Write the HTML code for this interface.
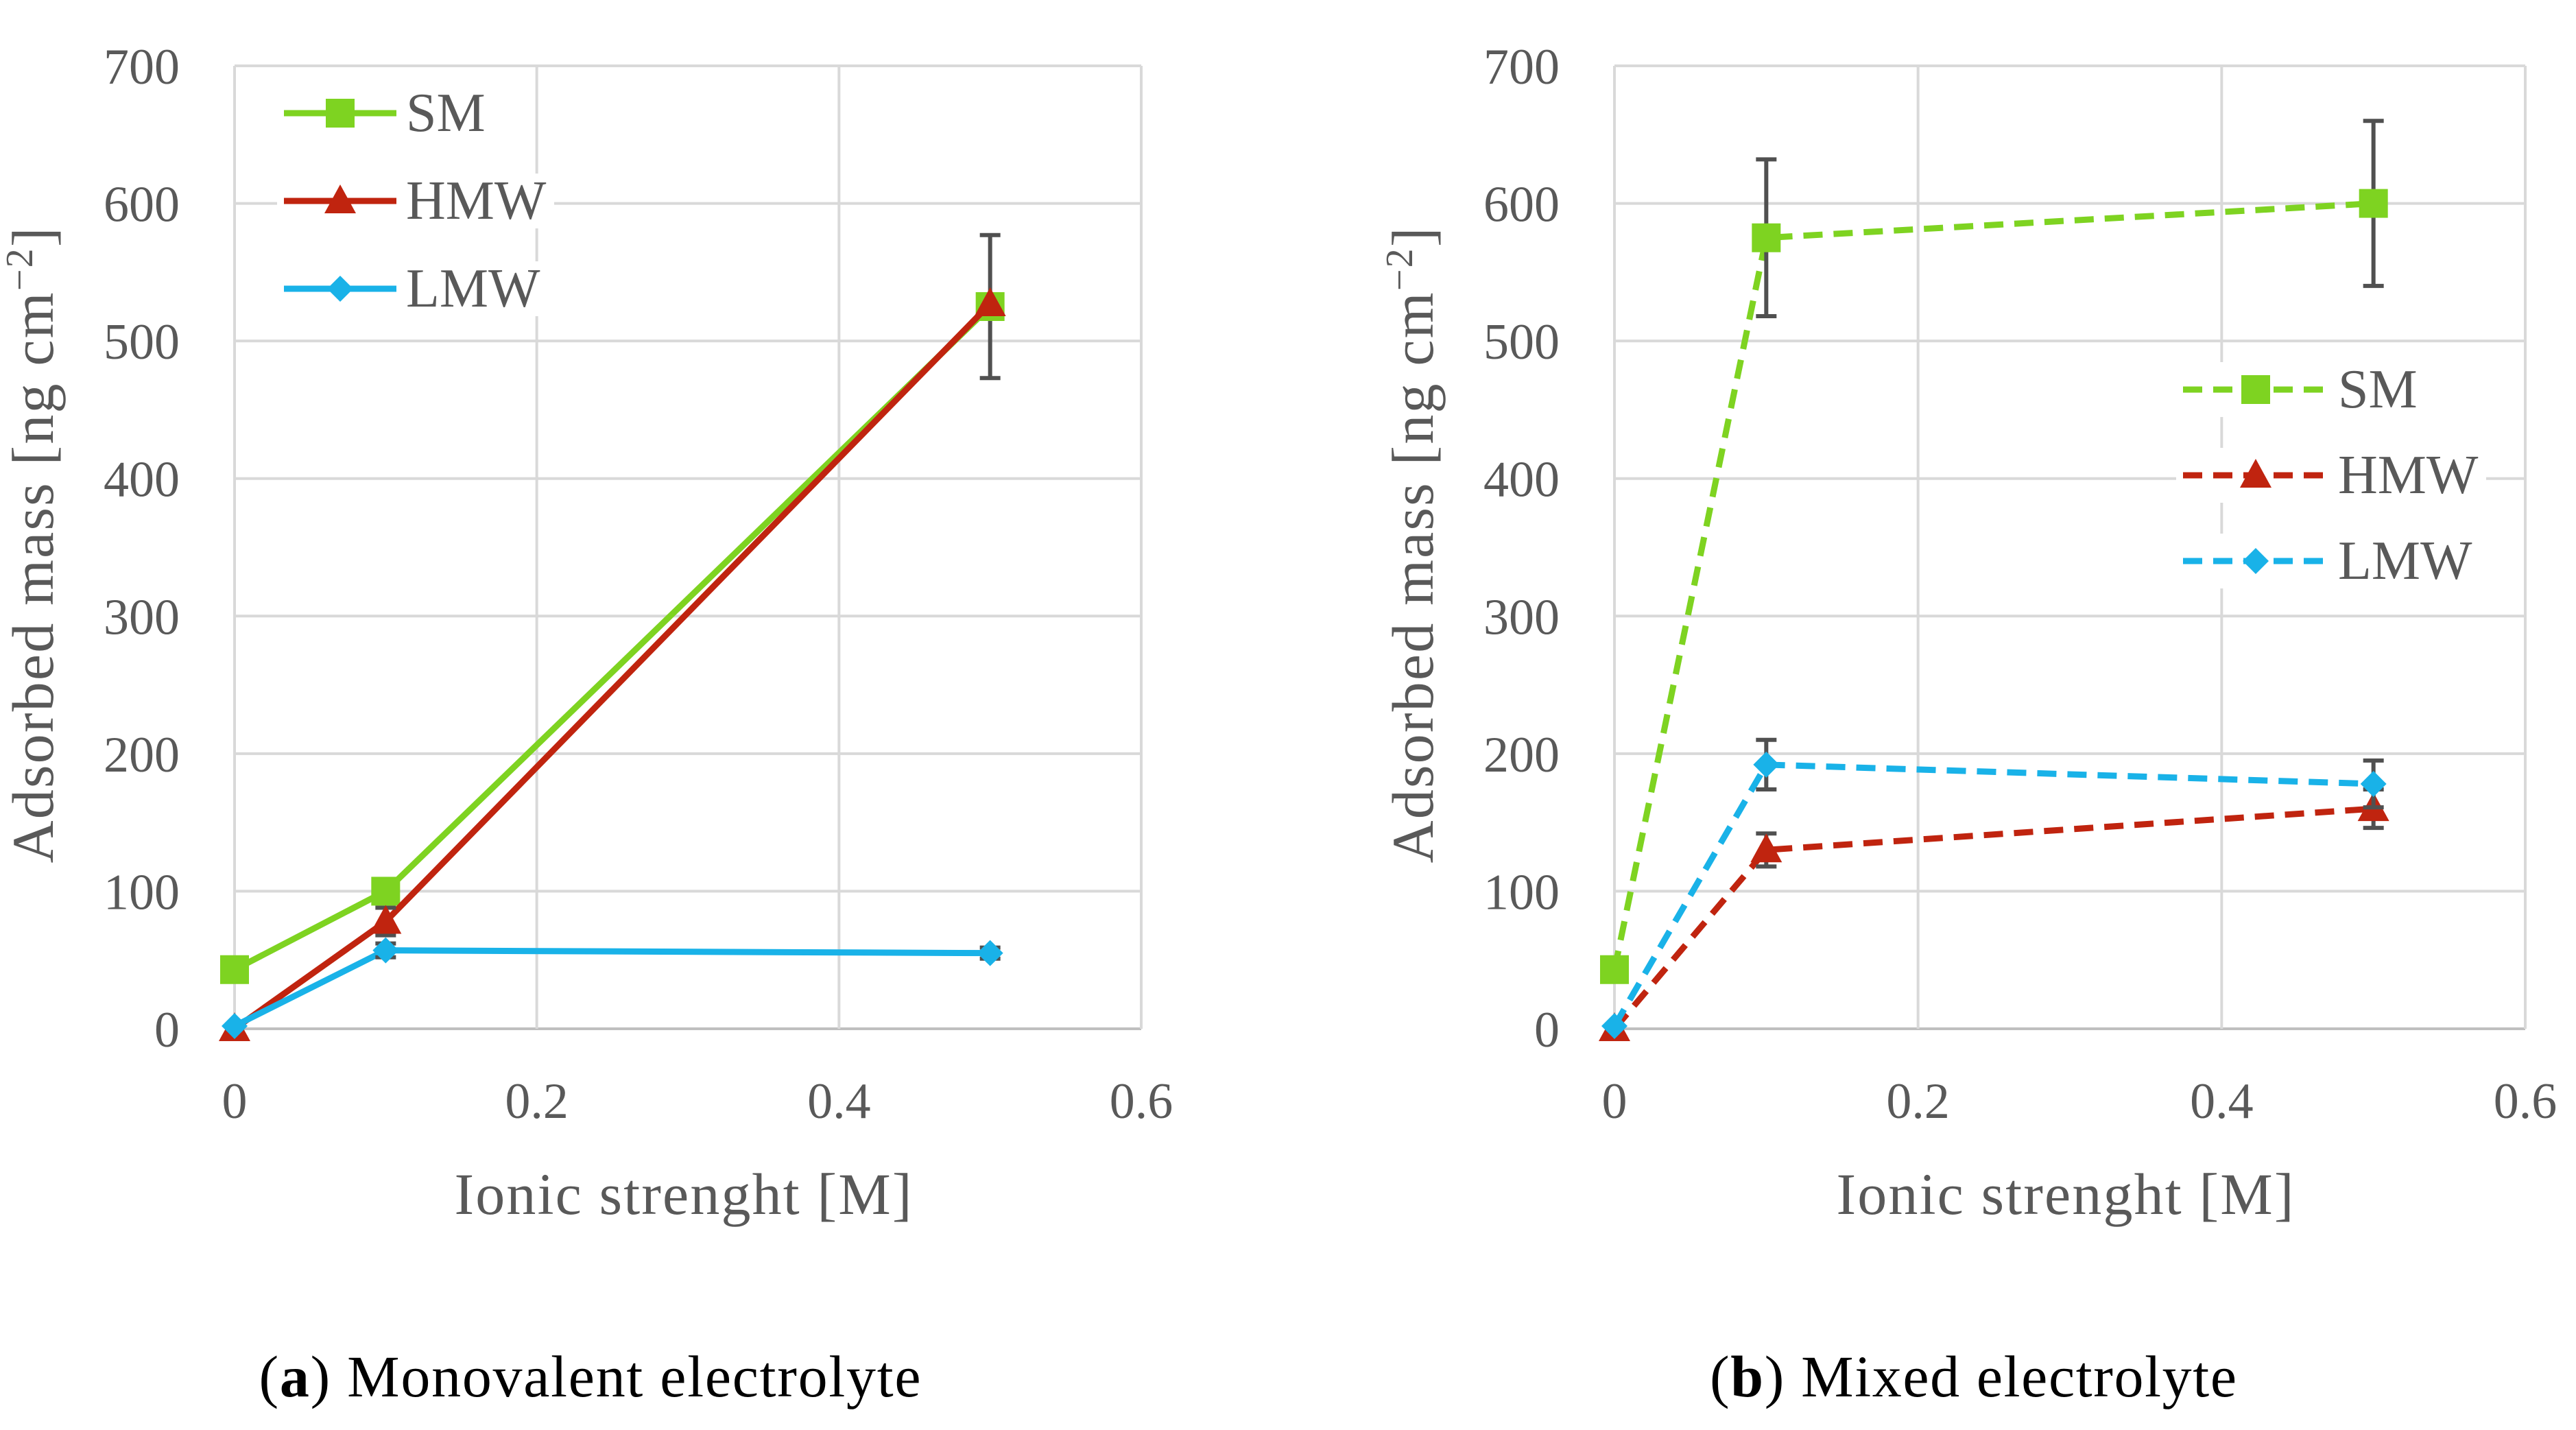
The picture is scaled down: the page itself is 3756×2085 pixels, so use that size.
<!DOCTYPE html>
<html><head><meta charset="utf-8"><style>body{margin:0;background:#fff}svg{display:block}</style></head>
<body>
<svg id="c" width="3756" height="2085" xmlns="http://www.w3.org/2000/svg" font-family="'Liberation Serif', serif"></svg>
<script>
const xTicks=[0,0.2,0.4,0.6];
const yTicks=[0,100,200,300,400,500,600,700];
const xVals=[0,0.1,0.5];
const seriesNames=["SM","HMW","LMW"];
const seriesColors=["#7ed321","#c0240f","#19b2e8"];
const aSM=[43,100,525], aHMW=[0,78,527], aLMW=[2,57,55];
const aErrSM=[0,0,52], aErrHMW=[0,10,0], aErrLMW=[0,5,4];
const bSM=[43,575,600], bHMW=[0,130,160], bLMW=[2,192,178];
const bErrSM=[0,57,60], bErrHMW=[0,12,14], bErrLMW=[0,18,17];
const svg=document.getElementById('c');
const NS="http://www.w3.org/2000/svg";
function mk(t,a,p){const e=document.createElementNS(NS,t);for(const k in a)e.setAttribute(k,a[k]);(p||svg).appendChild(e);return e;}
function chart(id,x0,x1,data,errs,dashed,legend,caption,capX,capLen){
  const y0=1500,y1=96;
  const g=mk('g',{});
  
  
  const X=v=>x0+(v-0)/0.6*(x1-x0), Y=v=>y0-(v/700)*(y0-y1);
  yTicks.forEach(t=>{const l=mk('line',{x1:x0,x2:x1,y1:Y(t),y2:Y(t),stroke:t==0?'#bfbfbf':'#d9d9d9','stroke-width':4},g);
    
    const tx=mk('text',{x:x0-80,y:Y(t)+26,'text-anchor':'end','font-size':74,fill:'#595959'},g);tx.textContent=t;
    });
  xTicks.forEach(t=>{const l=mk('line',{x1:X(t),x2:X(t),y1:y1,y2:y0,stroke:'#d9d9d9','stroke-width':4},g);
    
    const tx=mk('text',{x:X(t),y:1630,'text-anchor':'middle','font-size':74,fill:'#595959'},g);tx.textContent=t;
    });
  const yt=mk('text',{transform:`translate(${x0-265},795) rotate(-90)`,'text-anchor':'middle','font-size':86,fill:'#595959',textLength:927,lengthAdjust:'spacing'},g);
  yt.innerHTML='Adsorbed mass [ng cm<tspan dy="-30" font-size="56">−2</tspan><tspan dy="30">]</tspan>';
  
  const xt=mk('text',{x:(x0+x1)/2-7,y:1770,'text-anchor':'middle','font-size':86,fill:'#595959',textLength:667,lengthAdjust:'spacing'},g);xt.textContent='Ionic strenght [M]';
  
  const cap=mk('text',{x:capX,y:2036,'text-anchor':'middle','font-size':86,fill:'#000',textLength:capLen,lengthAdjust:'spacing'},g);
  cap.innerHTML=caption;
  
  function marker(i,cx,cy,parent){
    let m;
    if(i==0)m=mk('rect',{x:cx-21,y:cy-21,width:42,height:42,fill:seriesColors[0]},parent);
    else if(i==1)m=mk('polygon',{points:`${cx},${cy-24} ${cx+23},${cy+18} ${cx-23},${cy+18}`,fill:seriesColors[1]},parent);
    else m=mk('polygon',{points:`${cx},${cy-19} ${cx+19},${cy} ${cx},${cy+19} ${cx-19},${cy}`,fill:seriesColors[2]},parent);
    return m;
  }
  data.forEach((d,i)=>{
    const pts=d.map((v,j)=>X(xVals[j])+','+Y(v)).join(' ');
    const pl=mk('polyline',{points:pts,fill:'none',stroke:seriesColors[i],'stroke-width':9,'stroke-dasharray':dashed?'28 16':'none'},g);
    
    d.forEach((v,j)=>{
      const e=errs[i][j];
      if(e>0){const cx=X(xVals[j]);
        const eg=mk('path',{d:`M${cx},${Y(v+e)}V${Y(v-e)}M${cx-15},${Y(v+e)}H${cx+15}M${cx-15},${Y(v-e)}H${cx+15}`,stroke:'#505050','stroke-width':6,fill:'none'},g);
        }
      const m=marker(i,X(xVals[j]),Y(v),g);
      
    });
  });
  seriesNames.forEach((n,i)=>{
    const ly=legend.y+i*legend.dy;
    const lg=mk('g',{},g);
    
    mk('rect',{x:legend.x-10,y:ly-40,width:legend.w+(n=='SM'?150:240),height:80,fill:'#fff'},lg);
    mk('line',{x1:legend.x,x2:legend.x+legend.w,y1:ly,y2:ly,stroke:seriesColors[i],'stroke-width':9,'stroke-dasharray':dashed?'28 16':'none'},lg);
    marker(i,legend.x+legend.w/2,ly,lg);
    const t=mk('text',{x:legend.x+legend.w+14,y:ly+26,'font-size':80,fill:'#595959'},lg);t.textContent=n;
  });
}
chart('chart-a-monovalent',342,1664,[aSM,aHMW,aLMW],[aErrSM,aErrHMW,aErrLMW],false,{x:414,y:165,dy:128,w:164},'(<tspan font-weight="bold">a</tspan>) Monovalent electrolyte',860,965);
chart('chart-b-mixed',2354,3682,[bSM,bHMW,bLMW],[bErrSM,bErrHMW,bErrLMW],true,{x:3183,y:568,dy:125,w:212},'(<tspan font-weight="bold">b</tspan>) Mixed electrolyte',2877,768);
</script>
</body></html>
